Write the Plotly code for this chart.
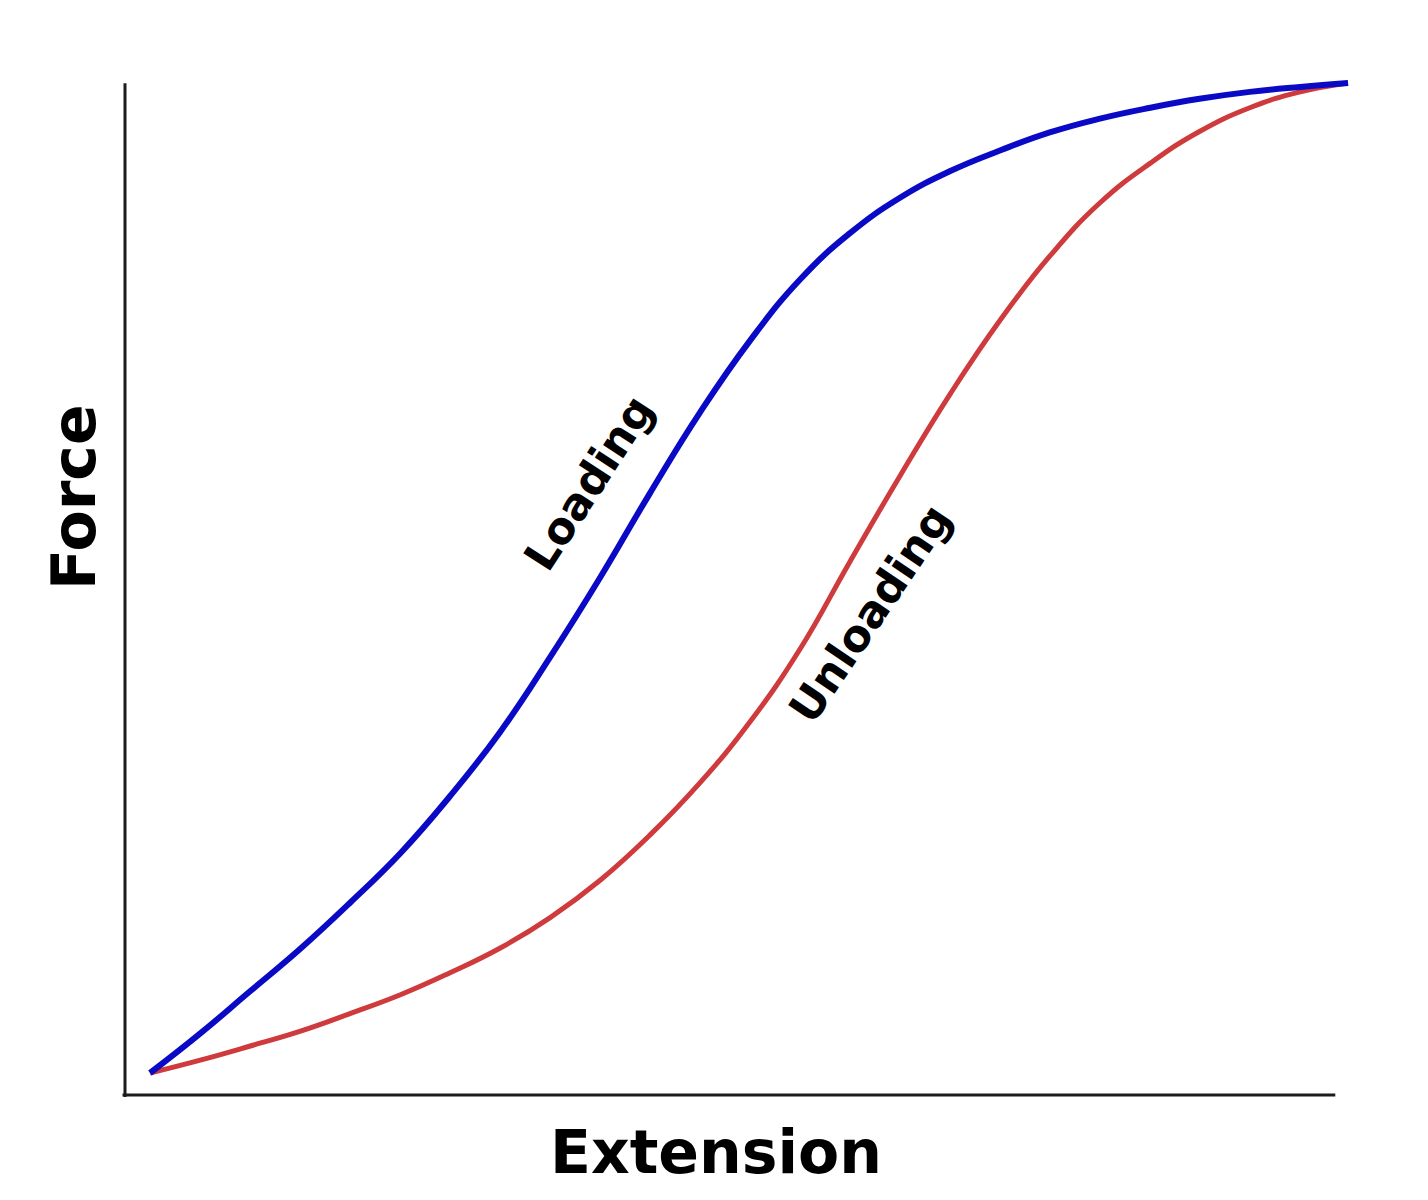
import plotly.graph_objects as go

# Extension in % of the maximum (shared by both curves)
extension = [0, 4.2, 8.3, 12.5, 16.7, 20.9, 25.0, 29.2, 33.4, 37.6, 41.7, 45.9, 50.1,
             54.3, 58.4, 62.6, 66.8, 71.0, 75.1, 79.3, 83.5, 87.6, 91.8, 96.0, 100]

# Loading curve (blue), force in % of the maximum
loading_force = [0, 4.0, 8.2, 12.5, 17.2, 22.2, 27.9, 34.4, 42.0, 50.1, 58.5, 66.7, 74.0,
                 80.2, 84.8, 88.4, 91.1, 93.2, 95.0, 96.4, 97.5, 98.4, 99.1, 99.6, 100]

# Unloading curve (red)
unloading_force = [0, 1.3, 2.7, 4.2, 6.0, 7.9, 10.1, 12.6, 15.7, 19.5, 24.0, 29.3, 35.5,
                   42.9, 51.6, 60.3, 68.6, 76.1, 82.5, 87.9, 91.9, 95.1, 97.5, 99.1, 100]

x_title = "Extension"
y_title = "Force"
labels = ["Loading", "Unloading"]

BOLD = "DejaVu Sans"

fig = go.Figure()
fig.add_trace(go.Scatter(x=extension, y=unloading_force, mode="lines",
                         line=dict(color="#cf3a3c", width=5, shape="spline", smoothing=1.3),
                         hoverinfo="skip"))
fig.add_trace(go.Scatter(x=extension, y=loading_force, mode="lines",
                         line=dict(color="#0a0ac6", width=6, shape="spline", smoothing=1.3),
                         hoverinfo="skip"))

# page has an 8px body margin, so the margins are 8px smaller on the left/top
fig.update_layout(
    width=1428, height=1200,
    margin=dict(l=117, r=76, t=62, b=113),
    paper_bgcolor="white", plot_bgcolor="white",
    showlegend=False,
    xaxis=dict(range=[-2.087, 101.0], visible=False, fixedrange=True),
    yaxis=dict(range=[-2.222, 101.31], visible=False, fixedrange=True),
)

# axis lines (L-shaped frame, bottom one stops short of the curve end)
fig.add_shape(type="line", xref="paper", yref="paper", x0=0, x1=0, y0=-0.002, y1=0.987,
              line=dict(color="#1c1c1c", width=3))
fig.add_shape(type="line", xref="paper", yref="paper", x0=-0.002, x1=0.98, y0=0, y1=0,
              line=dict(color="#1c1c1c", width=3))

# axis titles
fig.add_annotation(text="<b>" + x_title + "</b>", xref="paper", yref="paper",
                   x=0.4785, y=-0.0556, xanchor="center", yanchor="middle",
                   showarrow=False, font=dict(family=BOLD, size=60, color="black"))
fig.add_annotation(text="<b>" + y_title + "</b>", xref="paper", yref="paper",
                   x=-0.0413, y=0.5834, xanchor="center", yanchor="middle",
                   showarrow=False, textangle=-90,
                   font=dict(family=BOLD, size=60, color="black"))

# curve labels
fig.add_annotation(text="<b>" + labels[0] + "</b>", xref="paper", yref="paper",
                   x=0.375, y=0.597, xanchor="center", yanchor="middle",
                   showarrow=False, textangle=-57,
                   font=dict(family=BOLD, size=44, color="black"))
fig.add_annotation(text="<b>" + labels[1] + "</b>", xref="paper", yref="paper",
                   x=0.603, y=0.470, xanchor="center", yanchor="middle",
                   showarrow=False, textangle=-56,
                   font=dict(family=BOLD, size=44, color="black"))

fig.write_html("out.html")
